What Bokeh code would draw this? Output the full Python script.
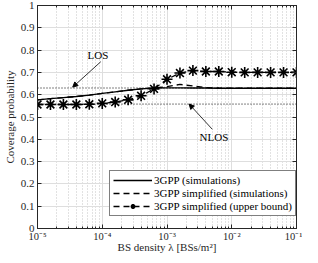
from bokeh.plotting import figure
from bokeh.models import (FixedTicker, CustomJSTickFormatter, LogAxis, LinearAxis,
                          Arrow, NormalHead, Label, Range1d, Legend)
from bokeh.embed import file_html
from bokeh.resources import INLINE

# ---------------- data ----------------
density = [1e-5, 1.585e-5, 2.512e-5, 3.981e-5, 6.31e-5,
           1e-4, 1.585e-4, 2.512e-4, 3.981e-4, 6.31e-4,
           1e-3, 1.585e-3, 2.512e-3, 3.981e-3, 6.31e-3,
           1e-2, 1.585e-2, 2.512e-2, 3.981e-2, 6.31e-2, 1e-1]
sim_3gpp = [0.577, 0.582, 0.587, 0.592, 0.598,
            0.606, 0.613, 0.620, 0.626, 0.630,
            0.631, 0.631, 0.630, 0.630, 0.629,
            0.629, 0.629, 0.629, 0.629, 0.629, 0.629]
sim_simplified = [0.577, 0.582, 0.587, 0.592, 0.598,
                  0.606, 0.613, 0.620, 0.626, 0.630,
                  0.636, 0.646, 0.639, 0.632, 0.630,
                  0.629, 0.629, 0.629, 0.629, 0.629, 0.629]
upper_bound = [0.556, 0.556, 0.556, 0.556, 0.557,
               0.561, 0.567, 0.577, 0.595, 0.626,
               0.669, 0.697, 0.708, 0.704, 0.704,
               0.701, 0.700, 0.700, 0.700, 0.700, 0.700]
los_level = 0.63
nlos_level = 0.558

x_ticks = [1e-5, 1e-4, 1e-3, 1e-2, 1e-1]
x_tick_labels = ["10\u207b\u2075", "10\u207b\u2074", "10\u207b\u00b3", "10\u207b\u00b2", "10\u207b\u00b9"]
x_minor = [m * d for d in [1e-5, 1e-4, 1e-3, 1e-2] for m in [2, 3, 4, 5, 6, 7, 8, 9]]
y_ticks = [0, 0.1, 0.2, 0.3, 0.4, 0.5, 0.6, 0.7, 0.8, 0.9, 1]
y_tick_labels = ["0", "0.1", "0.2", "0.3", "0.4", "0.5", "0.6", "0.7", "0.8", "0.9", "1"]

x_title = "BS density \u03bb [BSs/m\u00b2]"
y_title = "Coverage probability"
legend_labels = ["3GPP (simulations)", "3GPP simplified (simulations)",
                 "3GPP simplified (upper bound)"]

# annotation anchors (data coords)
los_text = (8.6e-5, 0.777)
los_arrow = (9.5e-5, 0.748, 3.5e-5, 0.634)
nlos_text = (5.3e-3, 0.41)
nlos_arrow = (5.0e-3, 0.445, 2.2e-3, 0.558)

FONT = "Liberation Serif"
AX = "#262626"

p = figure(width=302, height=255, x_axis_type="log",
           x_range=Range1d(1e-5, 1e-1), y_range=Range1d(0, 1),
           output_backend="svg", toolbar_location=None,
           min_border_left=26, min_border_right=6, min_border_top=5,
           min_border_bottom=25)
p.background_fill_color = "white"
p.border_fill_color = "white"
p.outline_line_color = AX
p.outline_line_width = 1

xt = FixedTicker(ticks=x_ticks, minor_ticks=x_minor)
yt = FixedTicker(ticks=y_ticks)
xfmt = CustomJSTickFormatter(args=dict(tv=x_ticks, tl=x_tick_labels), code="""
    let best = 0, bd = 1e9;
    for (let i = 0; i < tv.length; i++) {
        const d = Math.abs(Math.log10(tv[i]) - Math.log10(tick));
        if (d < bd) { bd = d; best = i; }
    }
    return tl[best];
""")
yfmt = CustomJSTickFormatter(args=dict(tv=y_ticks, tl=y_tick_labels), code="""
    let best = 0, bd = 1e9;
    for (let i = 0; i < tv.length; i++) {
        const d = Math.abs(tv[i] - tick);
        if (d < bd) { bd = d; best = i; }
    }
    return tl[best];
""")
blank = CustomJSTickFormatter(code="return '';")

def style_axis(ax):
    ax.axis_line_color = AX
    ax.major_tick_line_color = AX
    ax.minor_tick_line_color = AX
    ax.major_tick_in = 4
    ax.major_tick_out = 0
    ax.minor_tick_in = 2
    ax.minor_tick_out = 0
    ax.major_label_text_font = FONT
    ax.major_label_text_font_size = "11px"
    ax.major_label_text_color = AX
    ax.major_label_standoff = 3
    ax.axis_label_text_font = FONT
    ax.axis_label_text_font_size = "11px"
    ax.axis_label_text_font_style = "normal"
    ax.axis_label_text_color = AX
    ax.axis_label_standoff = 2

xa = p.xaxis[0]
xa.ticker = xt
xa.formatter = xfmt
xa.axis_label = x_title
style_axis(xa)
xa.major_label_text_font_size = "10.5px"
xa.major_label_standoff = 2
xa.axis_label_standoff = -4

ya = p.yaxis[0]
ya.ticker = yt
ya.formatter = yfmt
ya.axis_label = y_title
style_axis(ya)
ya.minor_tick_line_color = None

top = LogAxis(ticker=xt, formatter=blank)
style_axis(top)
top.major_label_standoff = 0
p.add_layout(top, "above")
right = LinearAxis(ticker=yt, formatter=blank)
style_axis(right)
right.major_label_standoff = 0
right.minor_tick_line_color = None
p.add_layout(right, "right")

p.xgrid.ticker = xt
p.ygrid.ticker = yt
p.xgrid.grid_line_color = "#dedede"
p.ygrid.grid_line_color = "#dedede"
p.xgrid.minor_grid_line_color = "#c4c4c4"
p.xgrid.minor_grid_line_dash = "1 2"

# reference levels
p.line([density[0], density[-1]], [los_level, los_level], line_color="black",
       line_width=1, line_dash="1 2")
p.line([density[0], density[-1]], [nlos_level, nlos_level], line_color="black",
       line_width=1, line_dash="1 2")

r1 = p.line(density, sim_3gpp, line_color="black", line_width=1.3)
r2 = p.line(density, sim_simplified, line_color="black", line_width=1.3, line_dash="6 4")
r3 = p.line(density, upper_bound, line_color="black", line_width=1.3, line_dash="6 4")
r3m = p.scatter(density, upper_bound, marker="asterisk", size=11, line_color="black",
                line_width=1.6)

legend = Legend(items=[(legend_labels[0], [r1]), (legend_labels[1], [r2]),
                       (legend_labels[2], [r3, r3m])],
                location=(72, 12))
legend.label_text_font = FONT
legend.label_text_font_size = "11px"
legend.label_text_color = "black"
legend.label_height = 12
legend.glyph_height = 12
legend.glyph_width = 39
legend.label_standoff = 2
legend.spacing = 1
legend.padding = 3
legend.margin = 0
legend.border_line_color = "black"
legend.border_line_width = 1
legend.background_fill_color = "white"
legend.background_fill_alpha = 1
p.add_layout(legend, "center")

p.add_layout(Label(x=los_text[0], y=los_text[1], text="LOS", text_font=FONT,
                   text_font_size="11px", text_align="center", text_baseline="middle",
                   text_color="black"))
p.add_layout(Label(x=nlos_text[0], y=nlos_text[1], text="NLOS", text_font=FONT,
                   text_font_size="11px", text_align="center", text_baseline="middle",
                   text_color="black"))
p.add_layout(Arrow(end=NormalHead(size=5, fill_color="black", line_color="black"),
                   x_start=los_arrow[0], y_start=los_arrow[1],
                   x_end=los_arrow[2], y_end=los_arrow[3],
                   line_color="black", line_width=0.8))
p.add_layout(Arrow(end=NormalHead(size=5, fill_color="black", line_color="black"),
                   x_start=nlos_arrow[0], y_start=nlos_arrow[1],
                   x_end=nlos_arrow[2], y_end=nlos_arrow[3],
                   line_color="black", line_width=0.8))

open("out.html", "w").write(file_html(p, INLINE))
